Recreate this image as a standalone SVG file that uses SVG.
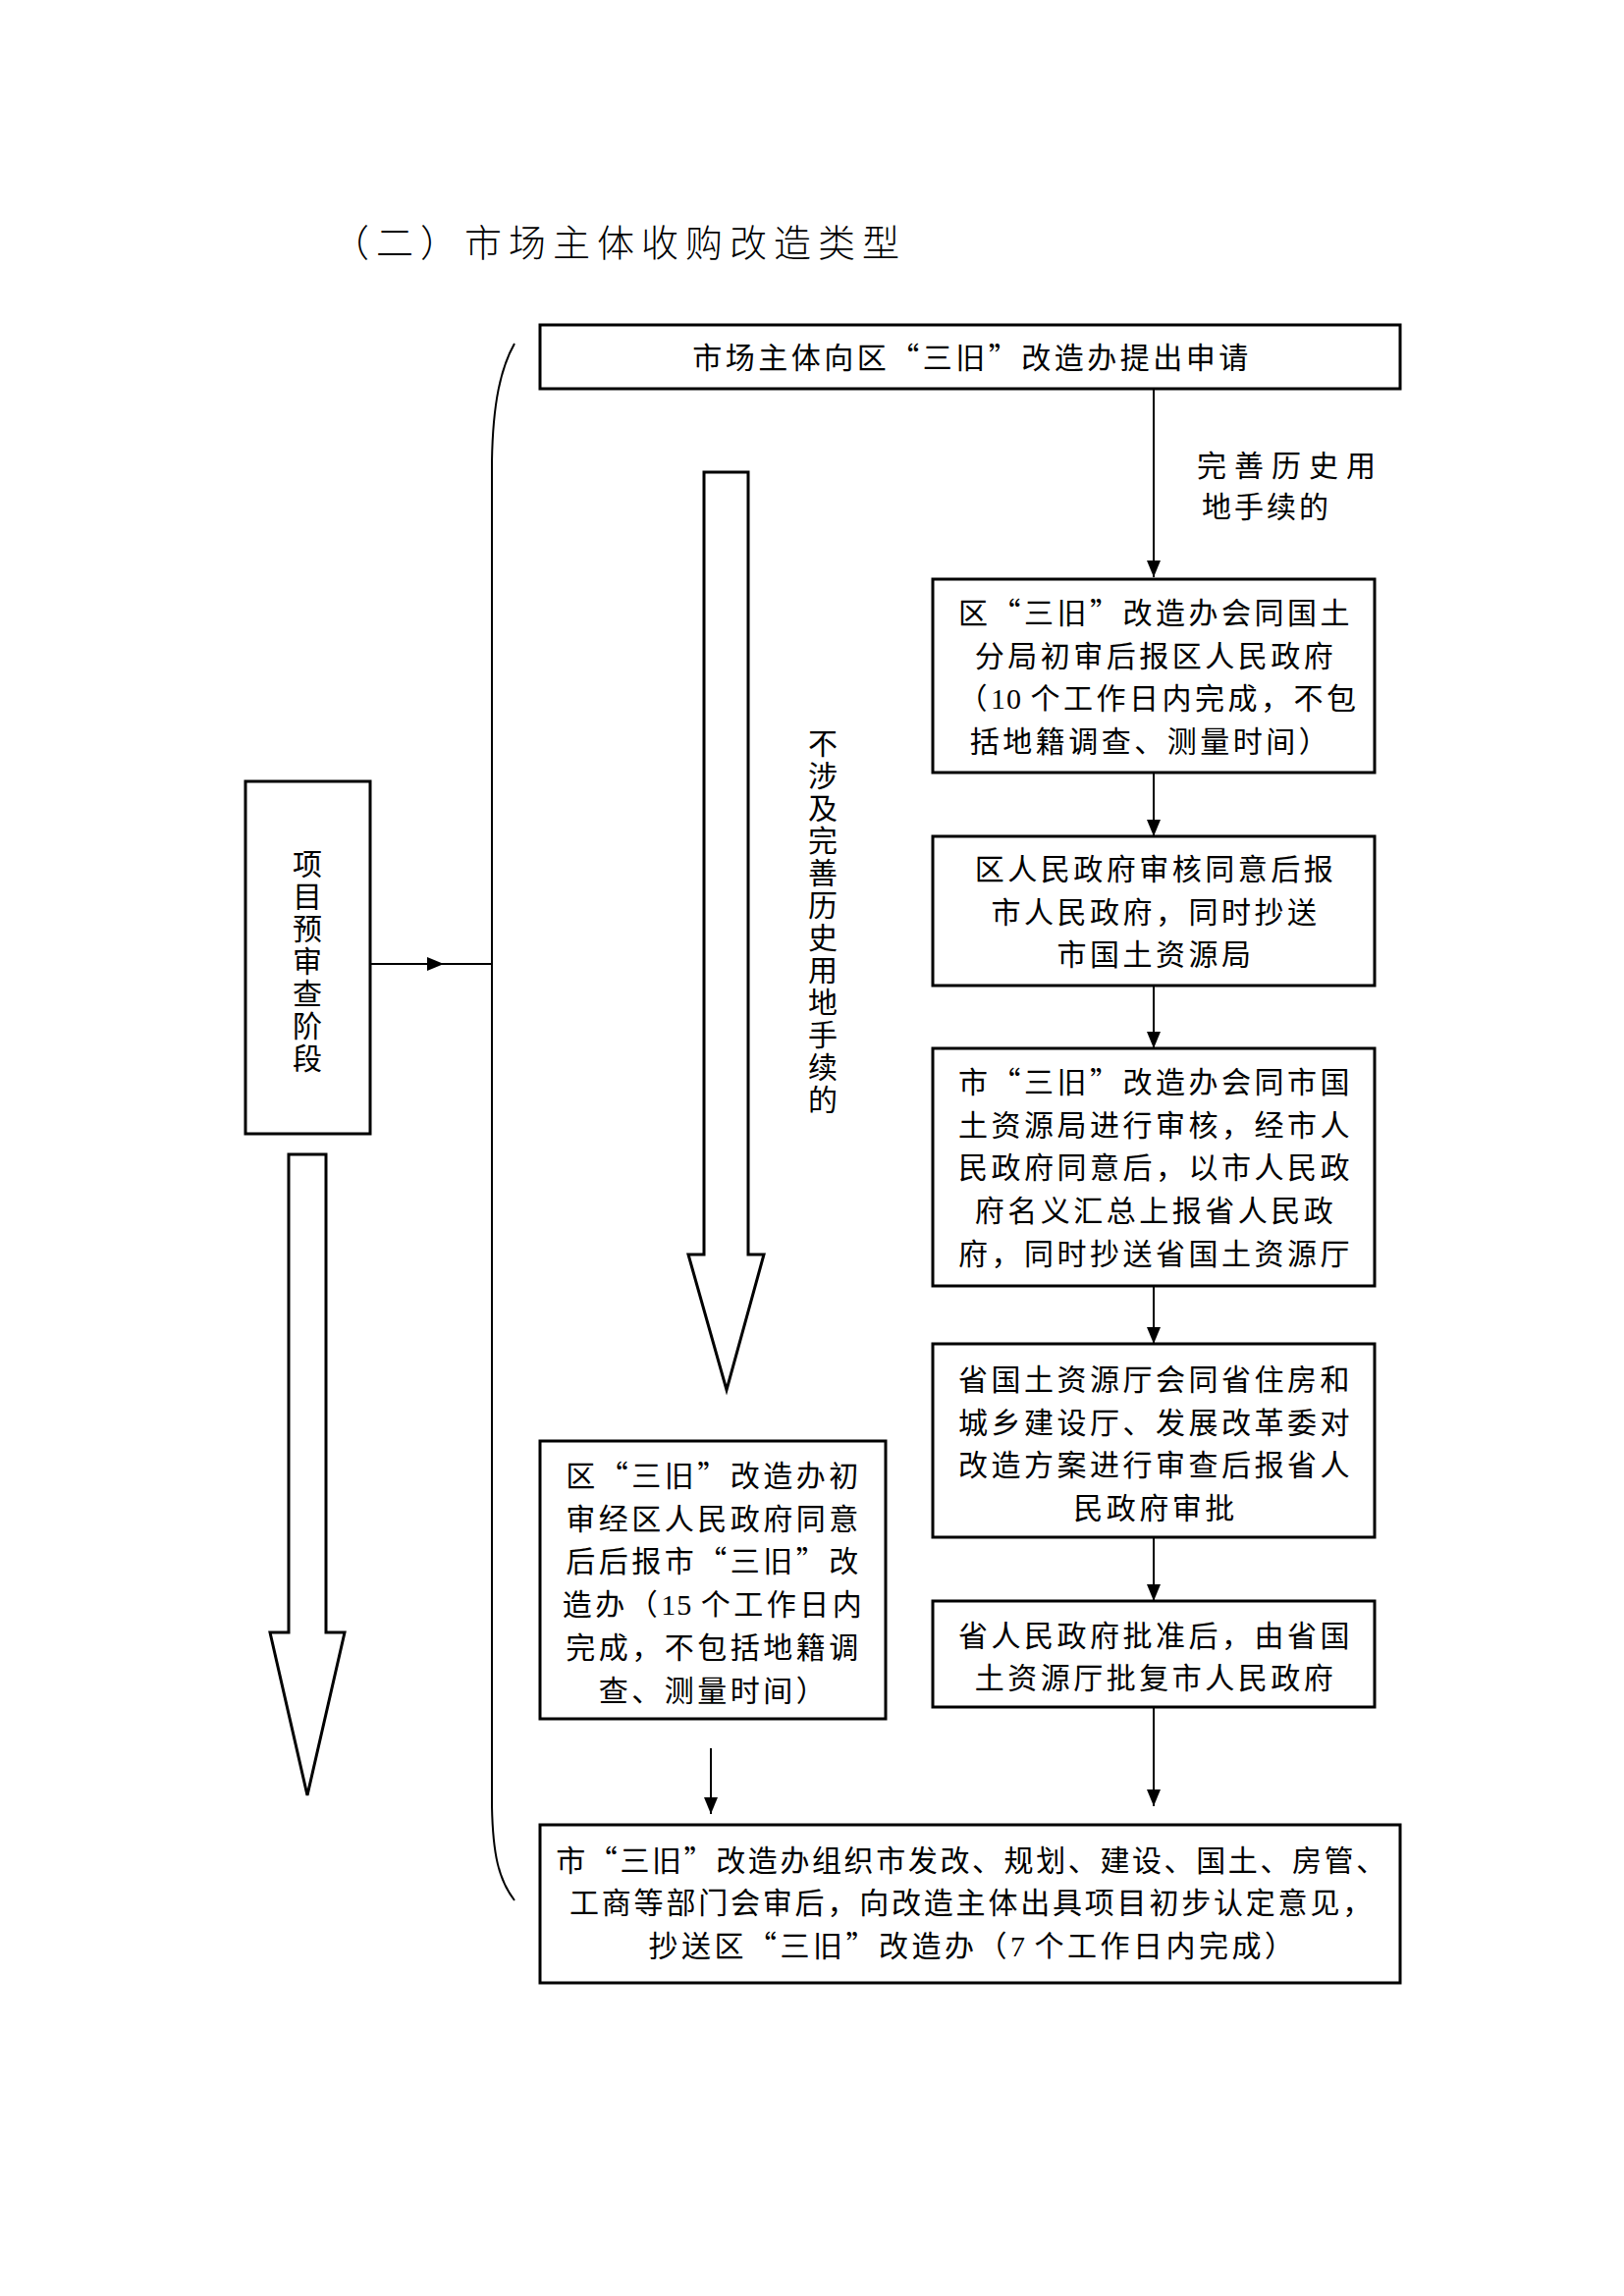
<svg xmlns="http://www.w3.org/2000/svg" width="1654" height="2339" viewBox="0 0 1654 2339">
<style>
  .box { fill: #ffffff; stroke: #000000; stroke-width: 3; }
  .t { font-family: "Noto Sans CJK SC", sans-serif; font-size: 30px; letter-spacing: 3.5px; fill: #000000; text-anchor: middle; }
  .tv { font-family: "Noto Sans CJK SC", sans-serif; font-size: 30px; fill: #000000; writing-mode: vertical-rl; letter-spacing: 3px; }
  .num { font-family: "Liberation Serif", serif; letter-spacing: 1px; }
  .title { font-family: "Noto Sans CJK SC", sans-serif; font-size: 38px; letter-spacing: 7px; fill: #000000; font-weight: 300; }
  .conn { fill: none; stroke: #000000; stroke-width: 2; }
  .hollow { fill: #ffffff; stroke: #000000; stroke-width: 3; stroke-linejoin: miter; }
</style>
<defs>
  <marker id="ah" markerUnits="userSpaceOnUse" markerWidth="17" markerHeight="14" refX="17" refY="7" orient="auto">
    <path d="M0,0 L17,7 L0,14 z" fill="#000000"/>
  </marker>
</defs>
<rect x="0" y="0" width="1654" height="2339" fill="#ffffff"/>

<text class="title" x="338" y="261">（二）市场主体收购改造类型</text>

<g id="connectors">
  <path class="conn" d="M1175 396 L1175 588" marker-end="url(#ah)"/>
  <path class="conn" d="M1175 787 L1175 852" marker-end="url(#ah)"/>
  <path class="conn" d="M1175 1004 L1175 1068" marker-end="url(#ah)"/>
  <path class="conn" d="M1175 1310 L1175 1369" marker-end="url(#ah)"/>
  <path class="conn" d="M1175 1566 L1175 1631" marker-end="url(#ah)"/>
  <path class="conn" d="M1175 1739 L1175 1840" marker-end="url(#ah)"/>
  <path class="conn" d="M724 1781 L724 1848" marker-end="url(#ah)"/>
  <path class="conn" d="M377 982 L452 982" marker-end="url(#ah)"/>
  <path class="conn" d="M450 982 L501 982"/>
  <path class="conn" d="M524 350 C510 375 502 410 501 470 L501 1840 C502 1890 508 1915 524 1936"/>
  <polygon class="hollow" points="717,481 762,481 762,1278 778,1278 740,1416 701,1278 717,1278"/>
  <polygon class="hollow" points="294,1176 332,1176 332,1663 351,1663 313,1829 275,1663 294,1663"/>
  <text class="t" x="1314" y="485" style="letter-spacing:8px">完善历史用</text>
  <text class="t" x="1290" y="527" style="letter-spacing:3px">地手续的</text>
  <text class="tv" x="838" y="742">不涉及完善历史用地手续的</text>
</g>

<g id="node-apply">
  <rect class="box" x="550" y="331" width="876" height="65"/>
  <text class="t" x="990" y="375">市场主体向区“三旧”改造办提出申请</text>
</g>

<g id="node-stage">
  <rect class="box" x="250" y="796" width="127" height="359"/>
  <text class="tv" x="313" y="865">项目预审查阶段</text>
</g>

<g id="node-r1">
  <rect class="box" x="950" y="590" width="450" height="197"/>
  <text class="t" x="1177" y="635">区“三旧”改造办会同国土</text>
  <text class="t" x="1177" y="679">分局初审后报区人民政府</text>
  <text class="t" x="1180" y="722">（<tspan class="num">10 </tspan>个工作日内完成，不包</text>
  <text class="t" x="1172" y="766">括地籍调查、测量时间）</text>
</g>

<g id="node-r2">
  <rect class="box" x="950" y="852" width="450" height="152"/>
  <text class="t" x="1177" y="896">区人民政府审核同意后报</text>
  <text class="t" x="1177" y="940">市人民政府，同时抄送</text>
  <text class="t" x="1177" y="983">市国土资源局</text>
</g>

<g id="node-r3">
  <rect class="box" x="950" y="1068" width="450" height="242"/>
  <text class="t" x="1177" y="1113">市“三旧”改造办会同市国</text>
  <text class="t" x="1177" y="1157">土资源局进行审核，经市人</text>
  <text class="t" x="1177" y="1200">民政府同意后，以市人民政</text>
  <text class="t" x="1177" y="1244">府名义汇总上报省人民政</text>
  <text class="t" x="1177" y="1288">府，同时抄送省国土资源厅</text>
</g>

<g id="node-r4">
  <rect class="box" x="950" y="1369" width="450" height="197"/>
  <text class="t" x="1177" y="1416">省国土资源厅会同省住房和</text>
  <text class="t" x="1177" y="1460">城乡建设厅、发展改革委对</text>
  <text class="t" x="1177" y="1503">改造方案进行审查后报省人</text>
  <text class="t" x="1177" y="1547">民政府审批</text>
</g>

<g id="node-r5">
  <rect class="box" x="950" y="1631" width="450" height="108"/>
  <text class="t" x="1177" y="1677">省人民政府批准后，由省国</text>
  <text class="t" x="1177" y="1720">土资源厅批复市人民政府</text>
</g>

<g id="node-l1">
  <rect class="box" x="550" y="1468" width="352" height="283"/>
  <text class="t" x="727" y="1514">区“三旧”改造办初</text>
  <text class="t" x="727" y="1558">审经区人民政府同意</text>
  <text class="t" x="727" y="1601">后后报市“三旧”改</text>
  <text class="t" x="727" y="1645">造办（<tspan class="num">15 </tspan>个工作日内</text>
  <text class="t" x="727" y="1689">完成，不包括地籍调</text>
  <text class="t" x="727" y="1733">查、测量时间）</text>
</g>

<g id="node-final">
  <rect class="box" x="550" y="1859" width="876" height="161"/>
  <text class="t" x="990" y="1906" style="letter-spacing:2.6px">市“三旧”改造办组织市发改、规划、建设、国土、房管、</text>
  <text class="t" x="990" y="1949" style="letter-spacing:2.8px">工商等部门会审后，向改造主体出具项目初步认定意见，</text>
  <text class="t" x="991" y="1993">抄送区“三旧”改造办（<tspan class="num">7 </tspan>个工作日内完成）</text>
</g>
</svg>
